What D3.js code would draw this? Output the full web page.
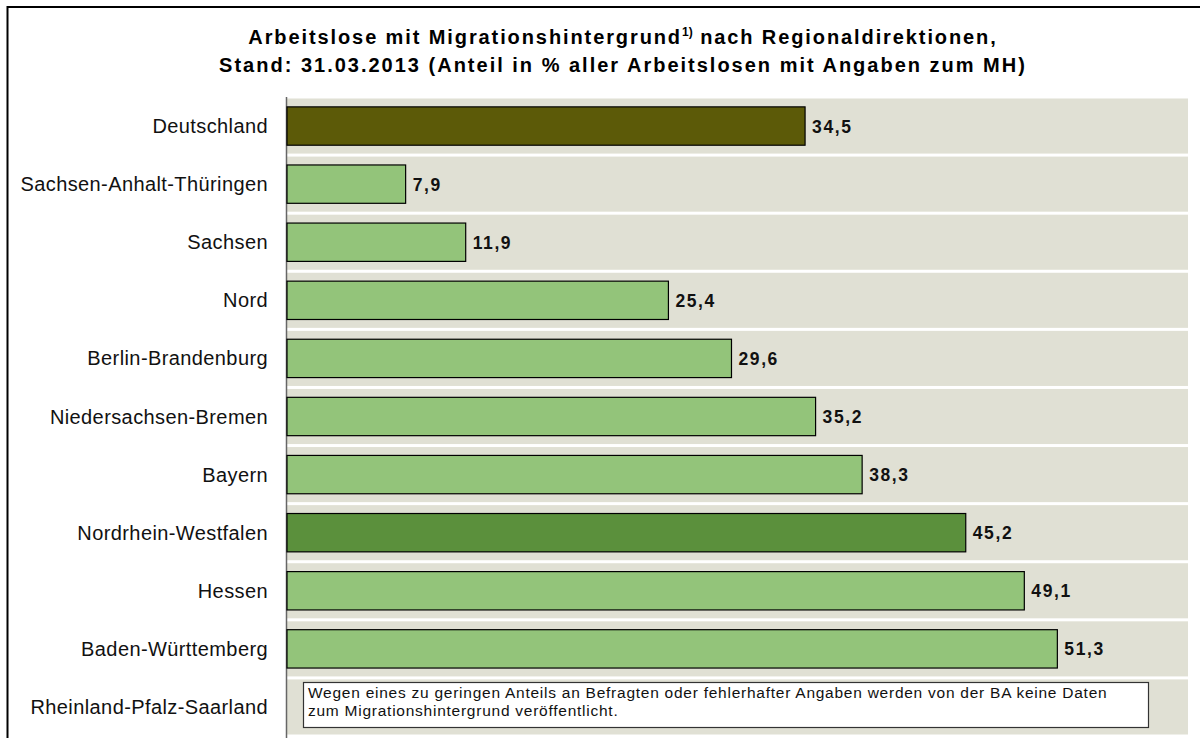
<!DOCTYPE html>
<html><head><meta charset="utf-8">
<script src="https://cdn.jsdelivr.net/npm/d3@7"></script>
<style>body{margin:0;background:#fff;}svg{display:block;font-family:"Liberation Sans",Arial,sans-serif;}</style>
</head><body><svg id="c" width="1200" height="738"></svg>
<script>
const categories = ["Deutschland","Sachsen-Anhalt-Thüringen","Sachsen","Nord","Berlin-Brandenburg","Niedersachsen-Bremen","Bayern","Nordrhein-Westfalen","Hessen","Baden-Württemberg","Rheinland-Pfalz-Saarland"];
const values = [34.5,7.9,11.9,25.4,29.6,35.2,38.3,45.2,49.1,51.3,null];
const colors = ["#5c5a08","#93c47a","#93c47a","#93c47a","#93c47a","#93c47a","#93c47a","#5b903c","#93c47a","#93c47a","#93c47a"];
const titleLines = ["Arbeitslose mit Migrationshintergrund","Stand: 31.03.2013 (Anteil in % aller Arbeitslosen mit Angaben zum MH)"];
const noteLines = ["Wegen eines zu geringen Anteils an Befragten oder fehlerhafter Angaben werden von der BA keine Daten","zum Migrationshintergrund veröffentlicht."];

const svg = d3.select("#c");
// outer frame
svg.append("rect").attr("x",7.5).attr("y",7).attr("width",1200).attr("height",740)
  .attr("fill","none").attr("stroke","#000").attr("stroke-width",2);

// title
const t1 = svg.append("text").attr("x",623).attr("y",44).attr("text-anchor","middle")
  .attr("font-size",20).attr("font-weight","bold").attr("letter-spacing","1.9px").attr("fill","#000");
t1.append("tspan").text(titleLines[0]);
t1.append("tspan").attr("dy",-8).attr("font-size",12).attr("letter-spacing","0px").text("1)");
t1.append("tspan").attr("dy",8).text(" nach Regionaldirektionen,");
svg.append("text").attr("x",623).attr("y",72).attr("text-anchor","middle")
  .attr("font-size",20).attr("font-weight","bold").attr("letter-spacing","2px").attr("fill","#000").text(titleLines[1]);

const x = d3.scaleLinear().domain([0,60]).range([287,1188]);
const y = d3.scaleBand().domain(categories).range([97,736]).paddingInner(0.34).paddingOuter(0.17);
const step = y.step();

// background bands
svg.append("g").selectAll("rect").data(categories).join("rect")
  .attr("x",287).attr("width",1188-287)
  .attr("y",d=>y(d)-y.paddingOuter()*step+1.5)
  .attr("height",step-3)
  .attr("fill","#e0e0d4");

// axis line
svg.append("line").attr("x1",286.5).attr("x2",286.5).attr("y1",97).attr("y2",738)
  .attr("stroke","#666").attr("stroke-width",1.5);

// bars
const data = categories.map((c,i)=>({c,v:values[i],col:colors[i]})).filter(d=>d.v!=null);
svg.append("g").selectAll("rect").data(data).join("rect")
  .attr("x",x(0)).attr("y",d=>y(d.c)).attr("width",d=>x(d.v)-x(0)).attr("height",y.bandwidth())
  .attr("fill",d=>d.col).attr("stroke","#000").attr("stroke-width",1.2);

// value labels
svg.append("g").selectAll("text").data(data).join("text")
  .attr("x",d=>x(d.v)+7).attr("y",d=>y(d.c)+y.bandwidth()/2+6.5)
  .attr("font-size",17.5).attr("font-weight","bold").attr("letter-spacing","1.6px").attr("fill","#111")
  .text(d=>d3.format(".1f")(d.v).replace(".",","));

// category labels
svg.append("g").selectAll("text").data(categories).join("text")
  .attr("x",268).attr("y",d=>y(d)+y.bandwidth()/2+7).attr("text-anchor","end")
  .attr("font-size",20).attr("letter-spacing","0.4px").attr("fill","#111").text(d=>d);

// note box
svg.append("rect").attr("x",303.5).attr("y",682.5).attr("width",845).attr("height",45)
  .attr("fill","#fff").attr("stroke","#333").attr("stroke-width",1.2);
svg.append("g").selectAll("text").data(noteLines).join("text")
  .attr("x",308).attr("y",(d,i)=>698+i*18).attr("font-size",15.5).attr("letter-spacing","0.75px").attr("fill","#111").text(d=>d);
</script></body></html>
